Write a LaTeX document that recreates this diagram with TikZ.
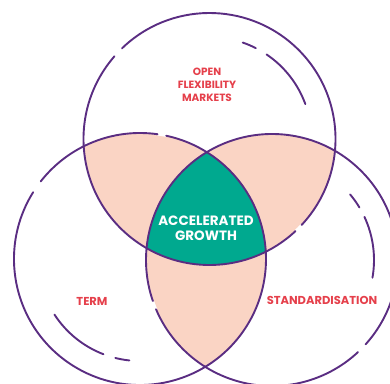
\documentclass[tikz,border=0pt]{standalone}
\usepackage{fontspec}
\setmainfont{Poppins}
\definecolor{venpurple}{HTML}{5A2D82}
\definecolor{venpink}{HTML}{FAD4C4}
\definecolor{venteal}{HTML}{00A98F}
\definecolor{venred}{HTML}{E5404B}
\tikzset{
  rim/.style={draw=venpurple,line width=1.9pt,line cap=round},
  notch/.style={draw=white,line width=2.4pt},
  redlabel/.style={text=venred,font=\fontsize{10.5}{13}\selectfont\bfseries,align=center},
  whitelabel/.style={text=white,font=\fontsize{13.5}{15}\selectfont\bfseries,align=center}
}
\begin{document}
\begin{tikzpicture}[x=1pt,y=1pt]
\useasboundingbox (0,0) rectangle (390,383);
\coordinate (top) at (209.5,244);
\coordinate (left) at (140,124);
\coordinate (right) at (272,123);
\def\R{126pt}
\def\r{102pt}

	% pairwise overlaps
	\begin{scope}
	\clip (top) circle[radius=\R];
	\fill[venpink] (left) circle[radius=\R];
	\fill[venpink] (right) circle[radius=\R];
	\end{scope}
	\begin{scope}
	\clip (left) circle[radius=\R];
	\fill[venpink] (right) circle[radius=\R];
	\end{scope}
	% centre
	\begin{scope}
	\clip (top) circle[radius=\R];
	\clip (left) circle[radius=\R];
	\fill[venteal] (right) circle[radius=\R];
	\end{scope}

	% gaps cut into the fill
	\draw[notch] (top) ++(313:\R) arc[start angle=313,end angle=317,radius=\R];
	\draw[notch] (left) ++(78:\R) arc[start angle=78,end angle=82,radius=\R];
	\draw[notch] (right) ++(199:\R) arc[start angle=199,end angle=203,radius=\R];

	% outer rims with gaps
	\draw[rim] (top) ++(139:\R) arc[start angle=139,end angle=313,radius=\R];
	\draw[rim] (top) ++(317:\R) arc[start angle=317,end angle=494,radius=\R];
	\draw[rim] (left) ++(82:\R) arc[start angle=82,end angle=142,radius=\R];
	\draw[rim] (left) ++(148:\R) arc[start angle=148,end angle=438,radius=\R];
	\draw[rim] (right) ++(203:\R) arc[start angle=203,end angle=313,radius=\R];
	\draw[rim] (right) ++(318:\R) arc[start angle=318,end angle=559,radius=\R];

	% inner arcs
	\draw[rim] (top) ++(20:\r) arc[start angle=20,end angle=56,radius=\r];
	\draw[rim] (top) ++(63:\r) arc[start angle=63,end angle=71,radius=\r];
	\draw[rim] (left) ++(213:\r) arc[start angle=213,end angle=249,radius=\r];
	\draw[rim] (left) ++(256:\r) arc[start angle=256,end angle=264,radius=\r];
	\draw[rim] (right) ++(-10:\r) arc[start angle=-10,end angle=25,radius=\r];
	\draw[rim] (right) ++(31:\r) arc[start angle=31,end angle=40,radius=\r];

\node[redlabel] (ofm) at (207,298) {OPEN\\FLEXIBILITY\\MARKETS};
\node[whitelabel] (growth) at (206,154.5) {ACCELERATED\\GROWTH};
\node[redlabel,font=\fontsize{11.5}{13}\selectfont\bfseries] (term) at (92,82) {TERM};
\node[redlabel,font=\fontsize{11.5}{13}\selectfont\bfseries] (std) at (322,83) {STANDARDISATION};

\end{tikzpicture}
\end{document}
